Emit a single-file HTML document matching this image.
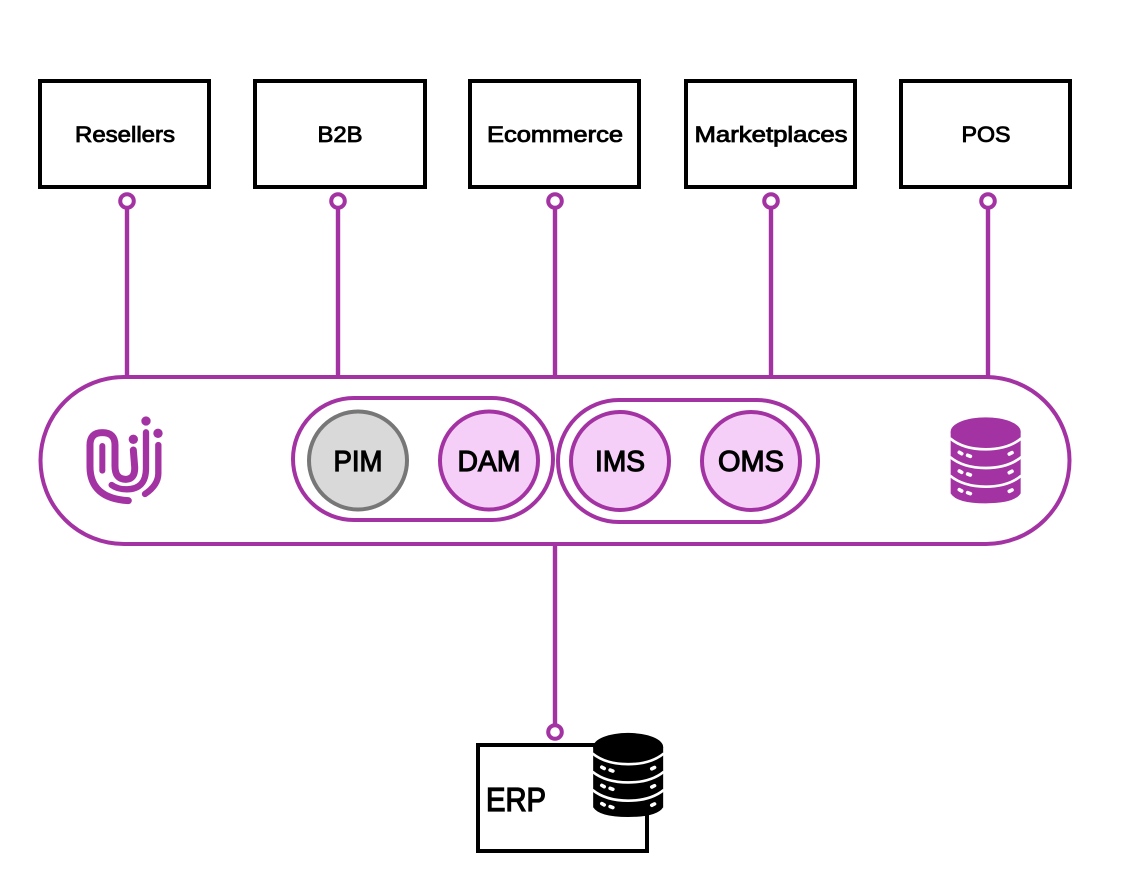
<!DOCTYPE html>
<html>
<head>
<meta charset="utf-8">
<style>
html,body{margin:0;padding:0;background:#fff;width:1132px;height:880px;overflow:hidden}
svg{display:block}
text{font-family:"Liberation Sans",sans-serif;font-weight:400;fill:#000;stroke:#000;text-anchor:middle}
</style>
</head>
<body>
<svg width="1132" height="880" viewBox="0 0 1132 880" xmlns="http://www.w3.org/2000/svg">
<defs>
<g id="db">
  <path d="M62 95 V280 Q80 310 167 310 Q254 310 272 280 V95 Z" fill="currentColor"/>
  <ellipse cx="167" cy="95" rx="105" ry="43" fill="currentColor"/>
  <g fill="none" stroke="#fff" stroke-width="8">
    <path d="M60 115 Q100 148 167 148 Q234 148 274 115"/>
    <path d="M60 171 Q100 204 167 204 Q234 204 274 171"/>
    <path d="M60 227 Q100 260 167 260 Q234 260 274 227"/>
  </g>
  <g fill="none" stroke="#fff" stroke-width="11" stroke-linecap="round">
    <path d="M88 157 L95 161 M113 166 L121 169 M238 162 L246 158"/>
    <path d="M88 213 L95 217 M113 222 L121 225 M238 218 L246 214"/>
    <path d="M88 269 L95 273 M113 278 L121 281 M238 274 L246 270"/>
  </g>
</g>
</defs>

<g fill="none" stroke="#000" stroke-width="4">
  <rect x="40" y="81" width="169" height="106"/>
  <rect x="255" y="81" width="170" height="106"/>
  <rect x="470" y="81" width="169" height="106"/>
  <rect x="686" y="81" width="169" height="106"/>
  <rect x="901" y="81" width="169" height="106"/>
  <rect x="478" y="745" width="169" height="106"/>
</g>

<g font-size="22" stroke-width="0.85">
  <text x="125" y="142" textLength="100" lengthAdjust="spacingAndGlyphs">Resellers</text>
  <text x="340" y="142" textLength="45" lengthAdjust="spacingAndGlyphs">B2B</text>
  <text x="555" y="142" textLength="136" lengthAdjust="spacingAndGlyphs">Ecommerce</text>
  <text x="771" y="142" textLength="153" lengthAdjust="spacingAndGlyphs">Marketplaces</text>
  <text x="986" y="142" textLength="49" lengthAdjust="spacingAndGlyphs">POS</text>
</g>

<g fill="none" stroke="#a333a3" stroke-width="4.4">
  <path d="M127 208 V377 M338 208 V377 M555 208 V377 M771 208 V377 M988 208 V377 M555 544 V725"/>
</g>
<g fill="#fff" stroke="#a333a3" stroke-width="4">
  <circle cx="127" cy="201" r="6.8"/>
  <circle cx="338" cy="201" r="6.8"/>
  <circle cx="555" cy="201" r="6.8"/>
  <circle cx="771" cy="201" r="6.8"/>
  <circle cx="988" cy="201" r="6.8"/>
  <circle cx="555" cy="732" r="6.8"/>
</g>

<rect x="40.5" y="377" width="1029" height="167" rx="83.5" fill="#fff" stroke="#a333a3" stroke-width="4"/>
<rect x="293" y="398" width="260" height="122" rx="61" fill="#fff" stroke="#a333a3" stroke-width="4"/>
<rect x="558" y="400" width="260" height="122" rx="61" fill="#fff" stroke="#a333a3" stroke-width="4"/>

<circle cx="358" cy="460.5" r="49" fill="#d9d9d9" stroke="#777" stroke-width="4"/>
<g fill="#f6cff8" stroke="#a333a3" stroke-width="4">
  <circle cx="489" cy="460.5" r="49"/>
  <circle cx="620" cy="461" r="49"/>
  <circle cx="751" cy="461" r="49"/>
</g>
<g font-size="29" stroke-width="1.15">
  <text x="358" y="471" textLength="49" lengthAdjust="spacingAndGlyphs">PIM</text>
  <text x="489" y="471" textLength="63" lengthAdjust="spacingAndGlyphs">DAM</text>
  <text x="620" y="471" textLength="50" lengthAdjust="spacingAndGlyphs">IMS</text>
  <text x="751" y="471" textLength="66" lengthAdjust="spacingAndGlyphs">OMS</text>
</g>

<g transform="translate(60,390) scale(0.3333)" fill="none" stroke="#a333a3" stroke-linecap="round">
  <path stroke-width="21" d="M205 332 Q90 325 90 230 V165 Q90 128 127 128 Q165 128 165 165 V228 Q165 268 197 268 Q226 268 224 230 L220 180"/>
  <path stroke-width="18" d="M127 168 V242"/>
  <path stroke-width="19" d="M258 127 V235 Q258 298 200 298 Q172 298 155 285"/>
  <path stroke-width="19" d="M295 165 V250 Q295 285 255 312"/>
  <g fill="#a333a3" stroke="none">
    <circle cx="220" cy="148" r="14"/>
    <circle cx="258" cy="93" r="14"/>
    <circle cx="294" cy="130" r="14"/>
  </g>
</g>

<g transform="translate(930,400) scale(0.3333)" color="#a333a3"><use href="#db"/></g>
<g transform="translate(572.5,716) scale(0.3333,0.3257)" color="#000"><use href="#db"/></g>

<text x="516" y="811" font-size="33" stroke-width="1.3" textLength="60" lengthAdjust="spacingAndGlyphs">ERP</text>
</svg>
</body>
</html>
